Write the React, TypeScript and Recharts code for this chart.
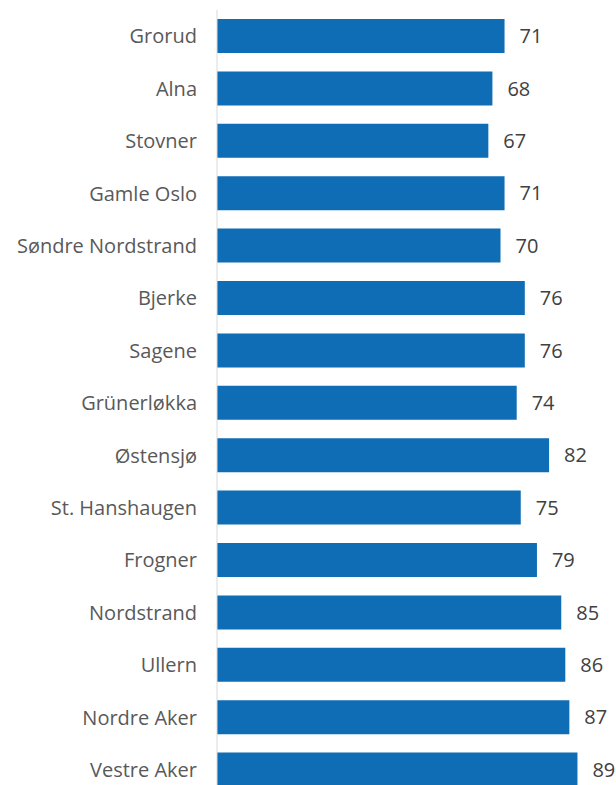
import React from 'react';
import { BarChart, Bar, XAxis, YAxis, LabelList } from 'recharts';

const districts = [
  'Grorud',
  'Alna',
  'Stovner',
  'Gamle Oslo',
  'Søndre Nordstrand',
  'Bjerke',
  'Sagene',
  'Grünerløkka',
  'Østensjø',
  'St. Hanshaugen',
  'Frogner',
  'Nordstrand',
  'Ullern',
  'Nordre Aker',
  'Vestre Aker',
];

const values = [71, 68, 67, 71, 70, 76, 76, 74, 82, 75, 79, 85, 86, 87, 89];

const chartData = districts.map((name, i) => ({ name, value: values[i] }));

const FONT = '"Open Sans", "Noto Sans", sans-serif';

export default function App() {
  return (
    <div style={{ position: 'absolute', left: 0, top: 0, width: 616, height: 785, overflow: 'hidden', background: '#fff' }}>
      <BarChart
        width={622}
        height={796}
        data={chartData}
        layout="vertical"
        margin={{ top: 10, right: 0, bottom: 0, left: 0 }}
      >
        <XAxis type="number" domain={[0, 100]} hide />
        <YAxis
          type="category"
          dataKey="name"
          width={217}
          axisLine={{ stroke: '#d9d9d9', strokeWidth: 1 }}
          tickLine={false}
          tickSize={0}
          tickMargin={20}
          interval={0}
          tick={{ fill: '#595959', fontSize: 20, fontFamily: FONT }}
        />
        <Bar dataKey="value" fill="#0f6db5" barSize={34} isAnimationActive={false}>
          <LabelList
            dataKey="value"
            position="right"
            offset={15}
            style={{ fill: '#404040', fontSize: 20, fontFamily: FONT }}
          />
        </Bar>
      </BarChart>
    </div>
  );
}
